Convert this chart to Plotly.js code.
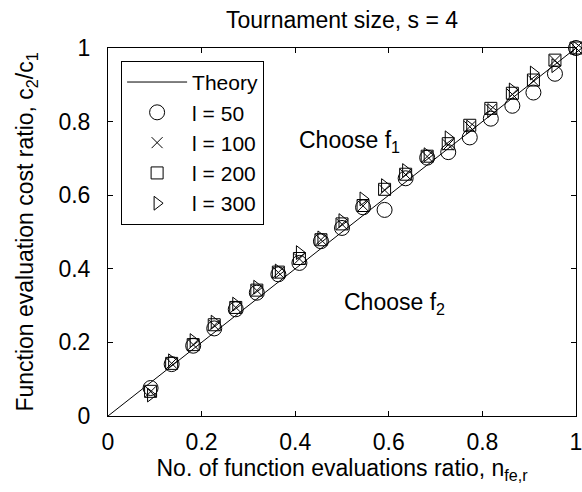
<!DOCTYPE html>
<html>
<head>
<meta charset="utf-8">
<script src="https://cdn.plot.ly/plotly-3.0.1.min.js"></script>
<style>
  html, body { margin: 0; padding: 0; background: #fff; }
  #chart { width: 582px; height: 492px; }
</style>
</head>
<body>
<div id="chart"></div>
<script>
// Function evaluation ratio (x) for each run
const evalRatio = [0.091, 0.136, 0.182, 0.227, 0.273, 0.318, 0.364, 0.409, 0.455, 0.500,
                   0.545, 0.591, 0.636, 0.682, 0.727, 0.773, 0.818, 0.864, 0.909, 0.955, 1.000];

// Break-even cost ratio c2/c1 per string length l
const cost50  = [0.076, 0.141, 0.191, 0.238, 0.290, 0.335, 0.385, 0.416, 0.475, 0.511,
                 0.567, 0.560, 0.646, 0.702, 0.717, 0.757, 0.808, 0.843, 0.879, 0.930, 1.000];
const cost100 = [0.066, 0.143, 0.194, 0.246, 0.295, 0.341, 0.390, 0.427, 0.479, 0.521,
                 0.571, 0.614, 0.656, 0.705, 0.737, 0.786, 0.833, 0.874, 0.911, 0.966, 1.000];
const cost200 = [0.067, 0.143, 0.194, 0.248, 0.295, 0.342, 0.391, 0.428, 0.479, 0.522,
                 0.572, 0.616, 0.657, 0.706, 0.740, 0.790, 0.836, 0.877, 0.913, 0.967, 1.000];
const cost300 = [0.057, 0.150, 0.205, 0.255, 0.304, 0.350, 0.394, 0.444, 0.484, 0.531,
                 0.590, 0.626, 0.667, 0.710, 0.756, 0.785, 0.830, 0.886, 0.932, 0.952, 1.000];

// Theoretical break-even line
const theoryX = [0, 1];
const theoryY = [0, 1];

const seriesNames = ['Theory', 'l = 50', 'l = 100', 'l = 200', 'l = 300'];
const tickValues = [0, 0.2, 0.4, 0.6, 0.8, 1];
const tickLabels = ['0', '0.2', '0.4', '0.6', '0.8', '1'];

const FONT = 'Liberation Sans, Arial, Helvetica, sans-serif';
const FS = 23;

function markerTrace(y, name, symbol, size) {
  return {
    x: evalRatio, y: y, name: name, type: 'scatter', mode: 'markers',
    cliponaxis: false,
    marker: { symbol: symbol, size: size, color: '#000', line: { color: '#000', width: 1 } }
  };
}

const traces = [
  { x: theoryX, y: theoryY, name: seriesNames[0], type: 'scatter', mode: 'lines',
    line: { color: '#000', width: 1 } },
  markerTrace(cost50,  seriesNames[1], 'circle-open', 15),
  markerTrace(cost100, seriesNames[2], 'x-thin-open', 11),
  markerTrace(cost200, seriesNames[3], 'square-open', 12),
  markerTrace(cost300, seriesNames[4], 'triangle-right-open', 12)
];

const axisCommon = {
  range: [0, 1], tickmode: 'array', tickvals: tickValues, ticktext: tickLabels,
  ticks: 'inside', ticklen: 5, tickwidth: 1, tickcolor: '#000',
  showline: true, linecolor: '#000', linewidth: 1, mirror: 'ticks',
  showgrid: false, zeroline: false, automargin: false,
  ticklabeloverflow: 'allow',
  tickfont: { family: FONT, size: FS, color: '#000' }
};

const layout = {
  width: 582, height: 492,
  margin: { l: 108, r: 6, t: 48, b: 76 },
  paper_bgcolor: '#fff', plot_bgcolor: '#fff',
  font: { family: FONT, size: FS, color: '#000' },
  title: {
    text: 'Tournament size, s = 4',
    font: { family: FONT, size: FS, color: '#000' },
    xref: 'paper', x: 0.5, xanchor: 'center',
    yref: 'container', y: 0.959, yanchor: 'middle'
  },
  xaxis: Object.assign({}, axisCommon, {
    ticklabelstandoff: 5,
    title: { text: 'No. of function evaluations ratio, n<sub>fe,r</sub>',
             font: { family: FONT, size: FS, color: '#000' }, standoff: 6 }
  }),
  yaxis: Object.assign({}, axisCommon, {
    ticklabelstandoff: 12,
    title: { text: 'Function evaluation cost ratio, c<sub>2</sub>/c<sub>1</sub>',
             font: { family: FONT, size: FS, color: '#000' }, standoff: 18 }
  }),
  showlegend: true,
  legend: {
    x: 0.028, y: 0.965, xanchor: 'left', yanchor: 'top',
    bgcolor: '#fff', bordercolor: '#000', borderwidth: 1,
    font: { family: FONT, size: 21, color: '#000' },
    traceorder: 'normal', itemwidth: 60,
    entrywidth: 157, entrywidthmode: 'pixels'
  },
  annotations: [
    { xref: 'x', yref: 'y', x: 0.404, y: 0.745, xanchor: 'left', yanchor: 'middle',
      text: 'Choose f<sub>1</sub>', showarrow: false,
      font: { family: FONT, size: FS, color: '#000' } },
    { xref: 'x', yref: 'y', x: 0.5, y: 0.305, xanchor: 'left', yanchor: 'middle',
      text: 'Choose f<sub>2</sub>', showarrow: false,
      font: { family: FONT, size: FS, color: '#000' } }
  ]
};

Plotly.newPlot('chart', traces, layout, { staticPlot: true, displayModeBar: false });
</script>
</body>
</html>
